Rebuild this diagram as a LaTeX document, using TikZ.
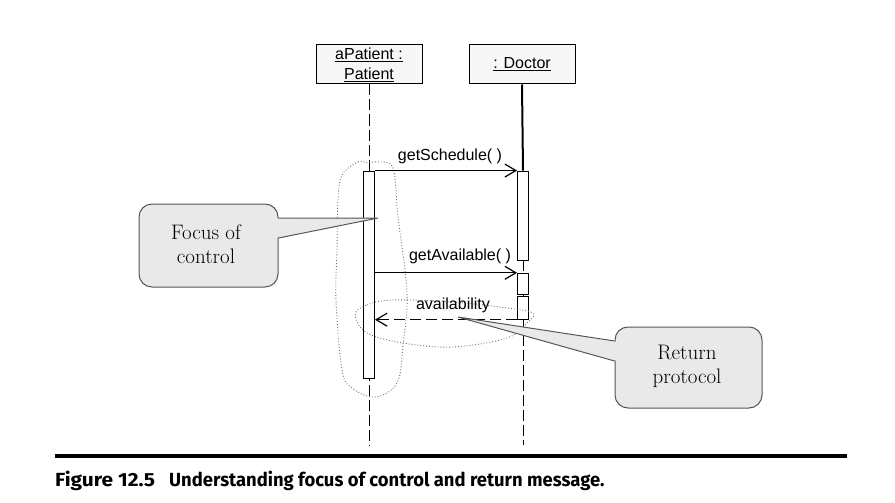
\documentclass[tikz,border=0pt]{standalone}
\usepackage{fontspec}
\usetikzlibrary{arrows.meta}
\newfontfamily\arialf{Liberation Sans}
\newfontfamily\capfont{Fira Sans}
\definecolor{callfill}{RGB}{233,233,233}
\definecolor{callline}{RGB}{85,85,85}
\definecolor{blobc}{RGB}{110,110,110}
\tikzset{
  objbox/.style={draw, line width=1pt, fill=black!3, minimum width=106pt, minimum height=39pt, inner sep=0pt, align=center, font=\arialf\fontsize{16}{20}\selectfont},
  actbox/.style={draw, line width=0.9pt, fill=white, minimum width=11pt, inner sep=0pt},
  msg/.style={line width=1.2pt, -{Straight Barb[length=11pt,width=13pt,line width=1.2pt]}},
  retmsg/.style={line width=1.1pt, dash pattern=on 11pt off 5pt, -{Straight Barb[length=11pt,width=13pt,line width=1.2pt]}},
  msglabel/.style={anchor=base, inner sep=0pt, font=\arialf\fontsize{16}{18}\selectfont},
  lifeline/.style={line width=0.9pt, dash pattern=on 11pt off 4pt},
  blob/.style={draw=blobc, line width=0.9pt, dotted},
  callbox/.style={draw=callline, line width=1pt, fill=callfill, rounded corners=13pt},
  calltext/.style={align=center, inner sep=0pt, font=\fontsize{21}{24}\selectfont},
  captxt/.style={anchor=base west, inner sep=0pt, font=\capfont\bfseries\fontsize{19}{20}\selectfont}
}
\begin{document}
\begin{tikzpicture}[x=1pt,y=-1pt]
\useasboundingbox (0,0) rectangle (895,503);

% object boxes
\node[objbox] (pbox) at (369,64.5) {\underline{aPatient :}\\\underline{Patient}};
\node[objbox] (dbox) at (522,64.5) {\underline{: Doctor}};

\coordinate (pend) at (369,445);
\coordinate (dend) at (523,445);

% lifelines
\draw[lifeline] (pbox.south) -- (pend);

% focus of control blob
\draw[blob] plot[smooth cycle, tension=0.6] coordinates {
 (342,175) (358,162) (368,163) (378,162) (393,168) (398,217) (407,293)
 (403,345) (397,383) (375,397) (352,388) (342,370) (336,300) (337,250) (338,200)};

% activation boxes
\node[actbox, minimum height=207pt] (pa) at (369,274.5) {};
\node[actbox, minimum height=89pt] (da1) at (523,215.5) {};
\node[actbox, minimum height=21pt] (da2) at (523,283.75) {};
\node[actbox, minimum height=22.5pt] (da3) at (523,308) {};

% doctor lifeline
\draw[line width=2pt] (dbox.south) -- (da1.north);
\draw[lifeline] (da1.south) -- (da2.north);
\draw[line width=0.9pt] (da2.south) -- (da3.north);
\draw[lifeline] (da3.south) -- (dend);

% messages
\draw[msg] (pa.north east) -- (da1.north west);
\node[msglabel] (l1) at (450,160) {getSchedule( )};
\draw[msg] (pa.east |- da2.north west) -- (da2.north west);
\node[msglabel] (l2) at (460,260) {getAvailable( )};
\draw[retmsg] (da3.south west) -- (pa.east |- da3.south west);

% return blob
\draw[blob] plot[smooth cycle, tension=0.6] coordinates {
 (355,315) (367,305) (393,300) (453,302) (507,308) (533,313) (527,323)
 (507,338) (453,347) (403,343) (367,333)};
\node[msglabel] (l3) at (453,309) {availability};

% Focus of control callout
\node[callbox, minimum width=139pt, minimum height=83pt, inner sep=0pt] (fc) at (208.5,245.5) {};
\coordinate (fctip) at (378,218);
\fill[callfill] (fc.east |- 0,218.6) -- (fctip) -- (fc.east |- 0,237.4) -- ([xshift=-1.5pt]fc.east |- 0,237.4) -- ([xshift=-1.5pt]fc.east |- 0,218.6) -- cycle;
\draw[callline, line width=1pt] (fc.east |- 0,218) -- (fctip) -- (fc.east |- 0,238);
\node[calltext] (fct) at (206,244) {Focus of\\control};

% Return protocol callout
\node[callbox, minimum width=147pt, minimum height=81pt, inner sep=0pt] (rp) at (688.5,367.5) {};
\coordinate (rptip) at (458,317);
\fill[callfill] (rp.west |- 0,341.6) -- (rptip) -- (rp.west |- 0,360.4) -- ([xshift=1.5pt]rp.west |- 0,360.4) -- ([xshift=1.5pt]rp.west |- 0,341.6) -- cycle;
\draw[callline, line width=1pt] (rp.west |- 0,341) -- (rptip) -- (rp.west |- 0,361);
\node[calltext] (rpt) at (687,366) {Return\\protocol};

% caption
\draw[line width=3.6pt] (55,456) coordinate (r1) -- (847,456) coordinate (r2);
\node[captxt] (c1) at (55,486) {\scalebox{1.1}[1]{Figure 12.5}};
\node[captxt] (c2) at (169,486) {\scalebox{0.97}[1]{Understanding focus of control and return message.}};
\end{tikzpicture}
\end{document}
